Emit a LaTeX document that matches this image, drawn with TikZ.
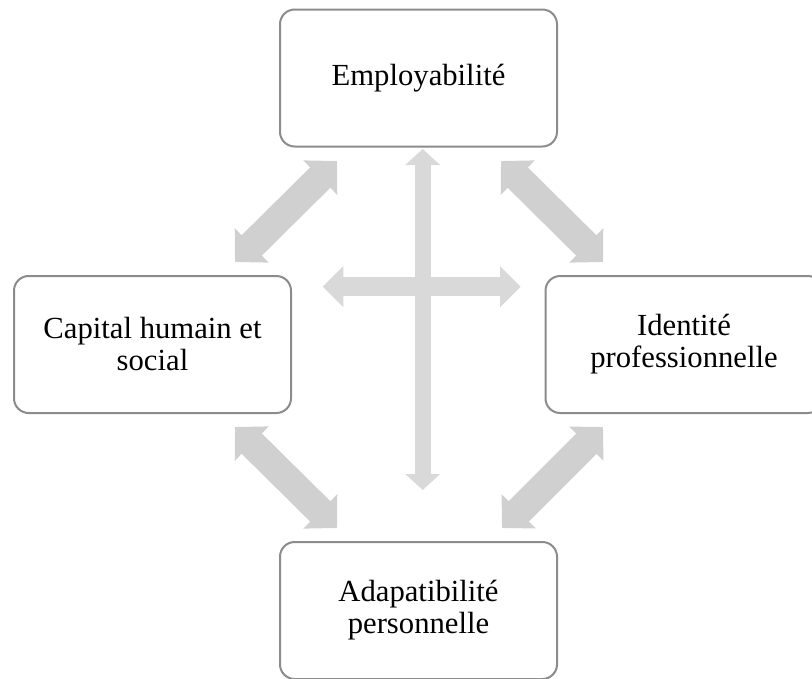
\documentclass[tikz,border=0pt]{standalone}
\usepackage{fontspec}
\setmainfont{Liberation Serif}
\usepackage{xcolor}
\usetikzlibrary{arrows.meta}

\definecolor{bordgris}{HTML}{8C8C8C}
\definecolor{flechediag}{HTML}{D0D0D0}
\definecolor{flechecroix}{HTML}{D9D9D9}

\begin{document}
\begin{tikzpicture}[x=0.75pt, y=-0.75pt,
  boite/.style={draw=bordgris, line width=1.5pt, rounded corners=11pt, fill=white,
    minimum width=207.75pt, minimum height=102.75pt, align=center, inner sep=0pt,
    font=\fontsize{23}{24}\selectfont},
  flechediag/.style={draw=flechediag, line width=21.5pt,
    {Triangle[width=35.25pt,length=17.7pt]}-{Triangle[width=35.25pt,length=17.7pt]}},
  flechev/.style={draw=flechecroix, line width=12pt,
    {Triangle[width=25.5pt,length=12pt]}-{Triangle[width=25.5pt,length=12pt]}},
  flecheh/.style={draw=flechecroix, line width=14.25pt,
    {Triangle[width=30pt,length=15.5pt]}-{Triangle[width=30pt,length=15.5pt]}}]
  \useasboundingbox (0,0) rectangle (812,678);

  % Les quatre boites
  \node[boite] (emploi) at (418.5,78) {Employabilité};
  \node[boite] (capital) at (152.5,344.5) {Capital humain et\\social};
  \node[boite] (identite) at (684,344.5) {Identité\\professionnelle};
  \node[boite] (adapt) at (418.5,610.5) {Adapatibilité\\personnelle};

  % Extremites des fleches
  \coordinate (hg1) at (235,262);
  \coordinate (hg2) at (337,161);
  \coordinate (hd1) at (501,161);
  \coordinate (hd2) at (603,262);
  \coordinate (bg1) at (235,427);
  \coordinate (bg2) at (337,528);
  \coordinate (bd1) at (603,427);
  \coordinate (bd2) at (502,528);
  \coordinate (vh) at (422.7,149);
  \coordinate (vb) at (422.7,490);
  \coordinate (hg) at (322.7,286.7);
  \coordinate (hd) at (520.7,286.7);

  \draw[flechediag] (hg1) -- (hg2);
  \draw[flechediag] (hd1) -- (hd2);
  \draw[flechediag] (bg1) -- (bg2);
  \draw[flechediag] (bd1) -- (bd2);

  % La croix au centre
  \draw[flechev] (vh) -- (vb);
  \draw[flecheh] (hg) -- (hd);
\end{tikzpicture}
\end{document}
